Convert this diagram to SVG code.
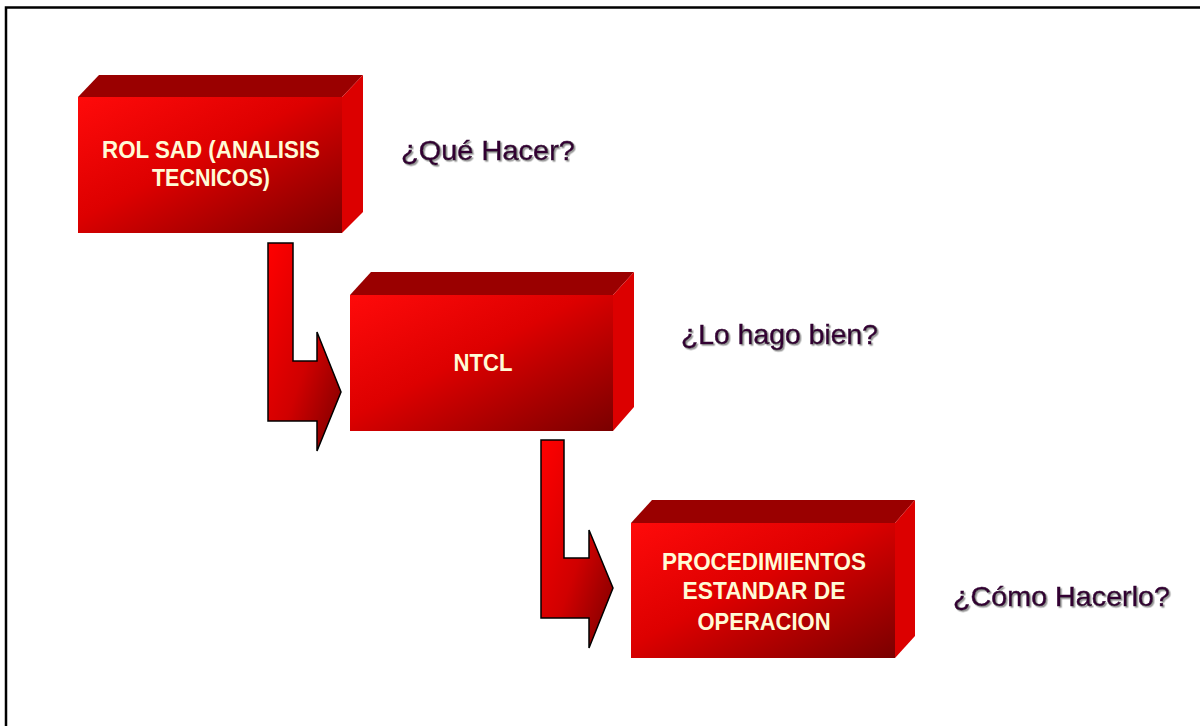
<svg xmlns="http://www.w3.org/2000/svg" width="1200" height="726" viewBox="0 0 1200 726">
  <style>
    .frame { fill: none; stroke: #000; stroke-width: 2.5; }
    .front { fill: url(#gFront); }
    .top { fill: #9a0000; }
    .side { fill: #dc0000; }
    .arrow { fill: url(#gArrow); stroke: #000; stroke-width: 1.5; stroke-linejoin: miter; }
    .label { font-family: "Liberation Sans", Arial, sans-serif; font-weight: bold; font-size: 23px; fill: #fffbd6; text-anchor: middle; }
    .question { font-family: "Liberation Sans", Arial, sans-serif; font-size: 28px; fill: #330033; stroke: #330033; stroke-width: 0.5; filter: url(#shadow); }
  </style>
  <defs>
    <linearGradient id="gFront" x1="0" y1="0" x2="1" y2="1">
      <stop offset="0" stop-color="#ff0a0a"/>
      <stop offset="0.45" stop-color="#dd0000"/>
      <stop offset="1" stop-color="#7a0000"/>
    </linearGradient>
    <linearGradient id="gArrow" x1="0" y1="0" x2="1" y2="1">
      <stop offset="0" stop-color="#ff0000"/>
      <stop offset="0.55" stop-color="#d00000"/>
      <stop offset="1" stop-color="#780000"/>
    </linearGradient>
    <filter id="shadow" x="-5%" y="-20%" width="115%" height="150%">
      <feDropShadow dx="1.5" dy="1.5" stdDeviation="0.6" flood-color="#8a8a8a" flood-opacity="0.9"/>
    </filter>
  </defs>

  <!-- page frame -->
  <rect class="frame" x="6" y="7.5" width="1210" height="740"/>

  <!-- connectors -->
  <g id="connectors">
    <polygon class="arrow" points="268,243 293,243 293,361 317,361 317,332 341,392 317,451 317,421 268,421"/>
    <polygon class="arrow" points="541,440 564,440 564,558 589,558 589,530 613,588 589,648 589,618 541,618"/>
  </g>

  <!-- box: ROL SAD -->
  <g id="node-rol-sad">
    <polygon class="top" points="78,97 99,75 363,75 342,97"/>
    <polygon class="side" points="342,97 363,75 363,212 342,233"/>
    <rect class="front" x="78" y="97" width="264" height="136"/>
    <text class="label" x="211" y="158" textLength="218" lengthAdjust="spacingAndGlyphs">ROL SAD (ANALISIS</text>
    <text class="label" x="211" y="186" textLength="118" lengthAdjust="spacingAndGlyphs">TECNICOS)</text>
  </g>

  <!-- box: NTCL -->
  <g id="node-ntcl">
    <polygon class="top" points="350,295 371,272 634,272 613,295"/>
    <polygon class="side" points="613,295 634,272 634,407 613,431"/>
    <rect class="front" x="350" y="295" width="263" height="136"/>
    <text class="label" x="483" y="371" textLength="59" lengthAdjust="spacingAndGlyphs">NTCL</text>
  </g>

  <!-- box: procedures -->
  <g id="node-procedimientos">
    <polygon class="top" points="631,523 652,500 915,500 895,523"/>
    <polygon class="side" points="895,523 915,500 915,636 895,658"/>
    <rect class="front" x="631" y="523" width="264" height="135"/>
    <text class="label" x="764" y="570" textLength="204" lengthAdjust="spacingAndGlyphs">PROCEDIMIENTOS</text>
    <text class="label" x="764" y="599" textLength="163" lengthAdjust="spacingAndGlyphs">ESTANDAR DE</text>
    <text class="label" x="764" y="630" textLength="133" lengthAdjust="spacingAndGlyphs">OPERACION</text>
  </g>

  <!-- questions -->
  <g id="q-que-hacer">
    <text class="question" x="401" y="160" textLength="174" lengthAdjust="spacingAndGlyphs">¿Qué Hacer?</text>
  </g>
  <g id="q-lo-hago-bien">
    <text class="question" x="681" y="344" textLength="197" lengthAdjust="spacingAndGlyphs">¿Lo hago bien?</text>
  </g>
  <g id="q-como-hacerlo">
    <text class="question" x="953" y="606" textLength="217" lengthAdjust="spacingAndGlyphs">¿Cómo Hacerlo?</text>
  </g>
</svg>
